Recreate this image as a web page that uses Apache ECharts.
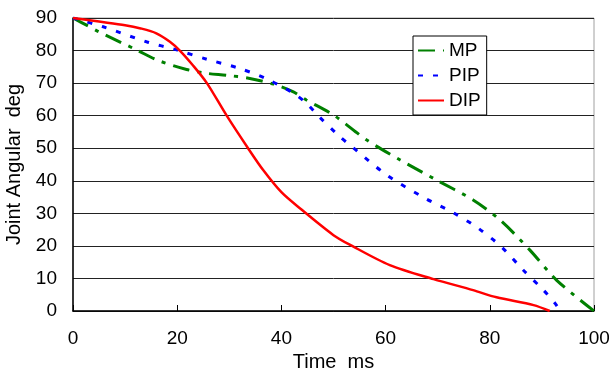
<!DOCTYPE html>
<html>
<head>
<meta charset="utf-8">
<script src="https://cdn.jsdelivr.net/npm/echarts@6/dist/echarts.min.js"></script>
<style>
html,body{margin:0;padding:0;background:#fff;}
#c{width:609px;height:374px;}
</style>
</head>
<body>
<div id="c"></div>
<script>
var xTicks = [0, 20, 40, 60, 80, 100];
var yTicks = [0, 10, 20, 30, 40, 50, 60, 70, 80, 90];

var mpTime = [0, 2.6, 4.9, 12.2, 16.1, 21.8, 25.7, 29.5, 33.7, 38.5, 42.3, 44.8, 50, 56.4, 62.8, 69.8, 76.8, 82, 87.7, 92.8, 100];
var mpAngle = [90, 87.8, 85.8, 80.2, 77.1, 74.2, 73, 72.4, 71.5, 69.7, 67.3, 64.8, 60.2, 52.5, 46.4, 40.2, 34.1, 27.9, 18.7, 9.5, 0];

var pipTime = [0, 5.8, 14.1, 19.9, 25.7, 31.4, 36.9, 42.3, 44.8, 47.1, 50.9, 53.5, 60.2, 67.6, 73, 77.8, 82.3, 86.4, 90.3, 92.5, 93.5];
var pipAngle = [90, 87.3, 82.7, 80.2, 77.3, 74.8, 71.5, 66.9, 63.8, 59.9, 54, 50.5, 41.8, 34.6, 30.2, 25.4, 19.6, 12.6, 6.4, 2.4, 0];

var dipTime = [0, 5, 10, 13, 16, 18.6, 20.5, 23, 25.7, 29.5, 33.6, 36.5, 40, 43.6, 50, 53.2, 60.8, 69.2, 76.8, 81.3, 88.4, 91.5];
var dipAngle = [90, 88.9, 87.8, 86.8, 85.3, 82.7, 80, 75.5, 70, 60, 50, 43.3, 36.5, 31.5, 23.3, 20.3, 14.1, 9.8, 6.4, 4.2, 1.8, 0];

function pairs(t, v) { return t.map(function (x, i) { return [x, v[i]]; }); }

var chart = echarts.init(document.getElementById('c'));
var font = 'Liberation Sans, Arial, sans-serif';
chart.setOption({
  animation: false,
  backgroundColor: '#fff',
  textStyle: { fontFamily: font },
  grid: { left: 73, right: 15, top: 18, bottom: 63, show: true, borderColor: '#a0a0a0', borderWidth: 1,
          containLabel: false, outerBoundsMode: 'none' },
  legend: {
    data: ['MP', 'PIP', 'DIP'],
    orient: 'vertical',
    left: 413, top: 36,
    padding: [5, 6, 5, 4],
    itemWidth: 26, itemHeight: 14, itemGap: 6,
    borderColor: '#000', borderWidth: 1,
    backgroundColor: '#fff',
    itemStyle: { opacity: 0 },
    textStyle: { fontSize: 19, color: '#000', fontFamily: font }
  },
  xAxis: {
    type: 'value', min: 0, max: 100, interval: 20,
    name: 'Time  ms', nameLocation: 'middle', nameGap: 38,
    nameTextStyle: { fontSize: 20, color: '#000', fontFamily: font },
    axisLine: { lineStyle: { color: '#000', width: 1.5 } },
    axisTick: { inside: true, length: 6, lineStyle: { color: '#000' } },
    axisLabel: { fontSize: 19, color: '#000', margin: 18, fontFamily: font },
    splitLine: { show: false }
  },
  yAxis: {
    type: 'value', min: 0, max: 90, interval: 10,
    name: 'Joint Angular  deg', nameLocation: 'middle', nameGap: 44,
    nameTextStyle: { fontSize: 20, color: '#000', fontFamily: font },
    axisLine: { lineStyle: { color: '#000', width: 1.5 } },
    axisTick: { show: false },
    axisLabel: { fontSize: 19, color: '#000', margin: 16, fontFamily: font },
    splitLine: { lineStyle: { color: '#222', width: 1 } }
  },
  series: [
    { name: 'MP', type: 'line', data: pairs(mpTime, mpAngle), smooth: 0.3, symbol: 'none',
      lineStyle: { color: '#008000', width: 3, type: [17, 8, 4, 8] }, itemStyle: { color: '#008000' }, z: 3 },
    { name: 'PIP', type: 'line', data: pairs(pipTime, pipAngle), smooth: 0.3, symbol: 'none',
      lineStyle: { color: '#0000ff', width: 3, type: [5, 10] }, itemStyle: { color: '#0000ff' }, z: 4 },
    { name: 'DIP', type: 'line', data: pairs(dipTime, dipAngle), smooth: 0.3, symbol: 'none',
      lineStyle: { color: '#ff0000', width: 2.5, type: 'solid' }, itemStyle: { color: '#ff0000' }, z: 5 }
  ]
});
</script>
</body>
</html>
